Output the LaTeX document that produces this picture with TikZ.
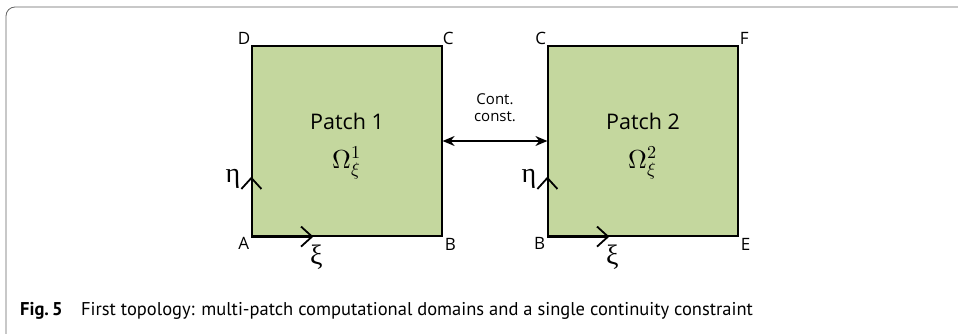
\documentclass[tikz,border=0pt]{standalone}
\usepackage{amsmath}
\usepackage{fontspec}
\usepackage{unicode-math}
\setmainfont{Open Sans}
\setmathfont{Latin Modern Math}
\newfontfamily\capfont{PT Sans}
\newfontfamily\greekfont{Liberation Serif}
\usetikzlibrary{arrows.meta,positioning}
\definecolor{patchgreen}{RGB}{196,215,158}
\definecolor{framegray}{RGB}{100,100,100}
\tikzset{
    patch-box/.style = {draw=black, fill=patchgreen, line width=1.2pt, minimum size=190pt, inner sep=0pt, align=center},
    corner-label/.style = {font=\fontsize{17}{19}\selectfont, inner sep=1pt},
    axis-arrow/.style = {line width=1.8pt, -{Straight Barb[length=11pt,width=20pt]}},
    greek-label/.style = {font=\greekfont\fontsize{28}{30}\selectfont, inner sep=1pt},
}

\begin{document}
\begin{tikzpicture}[x=1pt,y=1pt]
\useasboundingbox (0,0) rectangle (958,333);
% frame of the figure
\draw[framegray, line width=0.8pt, rounded corners=9pt] (6,-10) -- (6,326) -- (975,326);

% the two patches
\node [patch-box] (patch1) at (347,192) {};
\node [patch-box] (patch2) at (643,192) {};
\node [font=\fontsize{21.5}{23}\selectfont] (title1) at (347,212) {Patch 1};
\node [font=\fontsize{21.5}{23}\selectfont] (title2) at (643,212) {Patch 2};
\node [font=\fontsize{26}{28}\selectfont] (omega1) at (347,170) {$\Omega_\xi^1$};
\node [font=\fontsize{26}{28}\selectfont] (omega2) at (643,170) {$\Omega_\xi^2$};

% corner labels
\node [corner-label, above left=0pt and 0pt] (D) at (patch1.north west) {D};
\node [corner-label, above right=0pt and -1pt] (C1) at (patch1.north east) {C};
\node [corner-label, below left=0pt and 1pt] (A) at (patch1.south west) {A};
\node [corner-label, below right=1pt and 1pt] (B1) at (patch1.south east) {B};
\node [corner-label, above left=0pt and 0pt] (C2) at (patch2.north west) {C};
\node [corner-label, above right=0pt and 0pt] (F) at (patch2.north east) {F};
\node [corner-label, below left=0pt and 1pt] (B2) at (patch2.south west) {B};
\node [corner-label, below right=1pt and 1pt] (E) at (patch2.south east) {E};

% parametric directions
\coordinate (eta1) at ([yshift=60pt]patch1.south west);
\coordinate (xi1) at ([xshift=62pt]patch1.south west);
\coordinate (eta2) at ([yshift=60pt]patch2.south west);
\coordinate (xi2) at ([xshift=62pt]patch2.south west);
\draw[axis-arrow] (patch1.south west) -- (eta1);
\draw[axis-arrow] (patch1.south west) -- (xi1);
\draw[axis-arrow] (patch2.south west) -- (eta2);
\draw[axis-arrow] (patch2.south west) -- (xi2);
\node [greek-label, left=10pt] at ([yshift=-2pt]eta1) {η};
\node [greek-label, below=7pt] at ([xshift=3pt]xi1) {ξ};
\node [greek-label, left=10pt] at ([yshift=-2pt]eta2) {η};
\node [greek-label, below=7pt] at ([xshift=3pt]xi2) {ξ};

% continuity constraint
\draw[line width=1.4pt, {Stealth[length=12pt,width=10pt]}-{Stealth[length=12pt,width=10pt]}] (patch1.east) -- (patch2.west)
    node [midway, above=15pt, align=center, font=\fontsize{15}{17}\selectfont] (cont) {Cont.\\const.};

% caption
\node [anchor=west, inner sep=0pt, font=\capfont\fontsize{18.5}{20}\selectfont] (caption) at (20,22)
    {\textbf{Fig.\,5}\quad First topology: multi-patch computational domains and a single continuity constraint};
\end{tikzpicture}
\end{document}
